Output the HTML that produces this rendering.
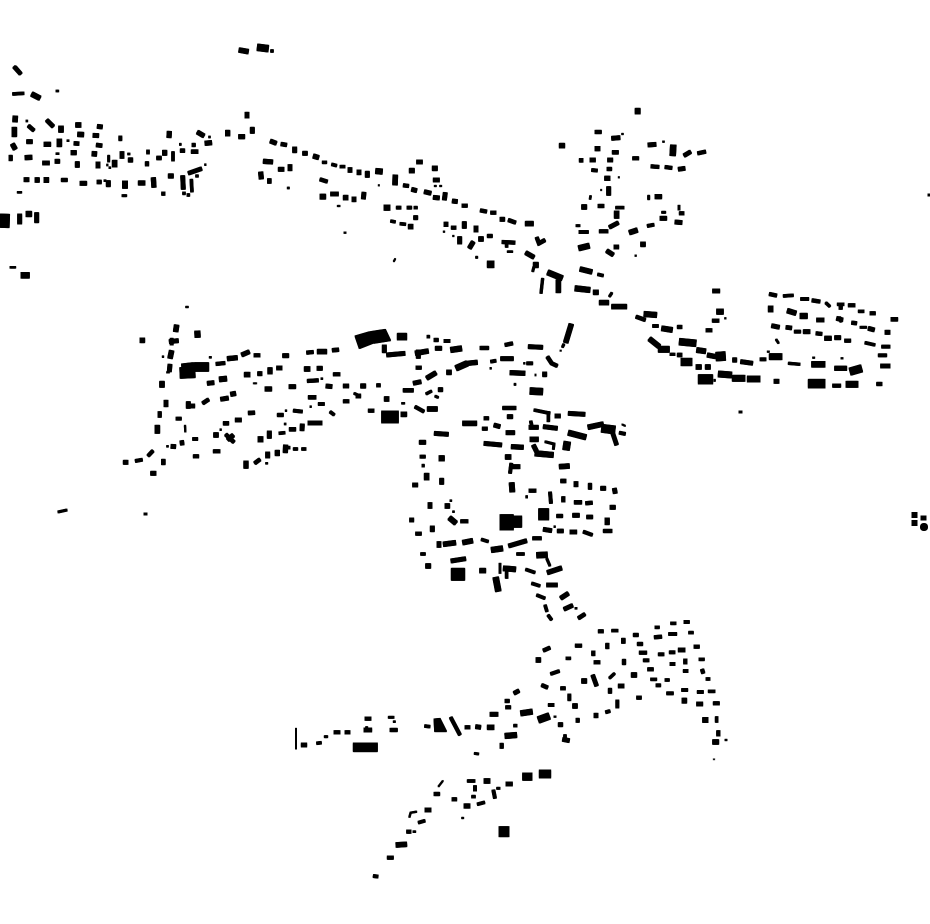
<!DOCTYPE html>
<html><head><meta charset="utf-8"><style>html,body{margin:0;padding:0;background:#fff}svg{display:block}path{stroke:#000;fill:none}.f{stroke:none;fill:#000}</style></head><body>
<svg xmlns="http://www.w3.org/2000/svg" width="930" height="924" viewBox="0 0 930 924">
<g id="a">
<g transform="translate(0 30) scale(.33333)">
<path d="M42 110 62 132" stroke-width="10"/><path d="M38 192 72 190" stroke-width="8"/><path d="M95 192 120 205" stroke-width="14"/><path d="M717 60 745 65" stroke-width="14"/><path d="M772 52 805 56" stroke-width="20"/><path d="M812 63 820 63" stroke-width="8"/>
<path d="M46 258 45 276" stroke-width="14"/><path d="M85 287 102 302" stroke-width="10"/><path d="M140 270 160 290" stroke-width="11"/><path d="M183 288 183 307" stroke-width="14"/><path d="M227 285 243 285" stroke-width="14"/><path d="M292 289 307 291" stroke-width="12"/><path d="M233 313 251 314" stroke-width="14"/><path d="M279 316 296 317" stroke-width="12"/><path d="M361 318 361 332" stroke-width="9"/><path d="M508 304 507 323" stroke-width="13"/><path d="M43 292 43 320" stroke-width="14"/><path d="M37 342 46 358" stroke-width="13"/><path d="M80 335 97 335" stroke-width="12"/><path d="M132 343 152 343" stroke-width="13"/><path d="M178 327 178 350" stroke-width="14"/><path d="M222 340 237 341" stroke-width="11"/><path d="M289 345 306 347" stroke-width="11"/><path d="M213 368 229 368" stroke-width="13"/><path d="M276 371 290 372" stroke-width="14"/><path d="M32 376 32 392" stroke-width="10"/><path d="M75 383 96 382" stroke-width="13"/><path d="M128 399 148 399" stroke-width="12"/><path d="M172 388 172 400" stroke-width="14"/><path d="M232 395 232 412" stroke-width="12"/><path d="M294 396 294 414" stroke-width="12"/><path d="M326 376 326 396" stroke-width="6"/><path d="M344 391 344 411" stroke-width="14"/><path d="M366 365 366 385" stroke-width="12"/><path d="M385 390 398 390" stroke-width="13"/><path d="M441 395 441 408" stroke-width="10"/><path d="M444 360 444 372" stroke-width="8"/><path d="M470 384 484 384" stroke-width="11"/><path d="M494 361 494 376" stroke-width="13"/><path d="M519 365 519 393" stroke-width="8"/><path d="M541 362 554 362" stroke-width="11"/><path d="M581 340 581 350" stroke-width="10"/><path d="M574 365 594 365" stroke-width="11"/><path d="M592 306 612 318" stroke-width="12"/><path d="M615 340 635 338" stroke-width="13"/><path d="M683 301 683 318" stroke-width="13"/><path d="M716 320 734 320" stroke-width="13"/><path d="M741 247 741 264" stroke-width="12"/><path d="M757 292 757 310" stroke-width="12"/><path d="M811 333 829 340" stroke-width="12"/><path d="M843 342 860 345" stroke-width="11"/><path d="M884 351 884 368" stroke-width="12"/><path d="M790 394 818 396" stroke-width="13"/><path d="M835 418 852 418" stroke-width="12"/><path d="M870 404 870 422" stroke-width="12"/><path d="M782 426 784 447" stroke-width="13"/><path d="M808 446 808 460" stroke-width="11"/>
<path d="M72 449 87 449" stroke-width="12"/><path d="M105 450 118 450" stroke-width="14"/><path d="M132 450 146 450" stroke-width="15"/><path d="M184 450 202 450" stroke-width="10"/><path d="M240 460 260 460" stroke-width="12"/><path d="M291 456 304 456" stroke-width="11"/><path d="M325 452 325 470" stroke-width="12"/><path d="M375 453 375 475" stroke-width="15"/><path d="M415 459 435 459" stroke-width="13"/><path d="M460 443 462 472" stroke-width="13"/><path d="M505 438 520 438" stroke-width="13"/><path d="M548 437 550 478" stroke-width="12"/><path d="M574 448 576 486" stroke-width="8"/><path d="M565 430 605 416" stroke-width="11"/><path d="M587 438h8" stroke-width="7"/><path d="M485 491h10" stroke-width="10"/><path d="M548 490h8" stroke-width="8"/><path d="M561 495h8" stroke-width="8"/><path d="M366 497 380 497" stroke-width="6"/><path d="M52 487 65 487" stroke-width="5"/><path d="M30 712 47 712" stroke-width="5"/><path d="M63 736 88 736" stroke-width="17"/><path d="M0 572 28 573" stroke-width="40"/><path d="M59 552 59 582" stroke-width="12"/><path d="M78 552 95 552" stroke-width="16"/><path d="M110 548 110 578" stroke-width="12"/>
<path d="M168 183h8M78 273h5M201 332h6M168 371h9M383 372h7M320 405h4M327 413h5M614 404h4M626 321h5M541 340v6M862 474h6M312 452h6" stroke-width="5"/>
</g>
<g transform="translate(230 100) scale(.33333)">
<path d="M218 160 232 160" stroke-width="12"/><path d="M250 168 266 173" stroke-width="13"/><path d="M277 187 290 187" stroke-width="8"/><path d="M305 193 320 197" stroke-width="8"/><path d="M330 200 345 200" stroke-width="8"/><path d="M360 203 360 217" stroke-width="12"/><path d="M387 210 387 224" stroke-width="12"/><path d="M412 214 412 232" stroke-width="12"/><path d="M437 213 457 215" stroke-width="16"/><path d="M496 225 495 255" stroke-width="14"/><path d="M520 256 536 258" stroke-width="10"/><path d="M545 268 560 272" stroke-width="12"/><path d="M583 275 603 280" stroke-width="12"/><path d="M610 292 628 294" stroke-width="12"/><path d="M646 278 643 300" stroke-width="12"/><path d="M667 303 682 305" stroke-width="12"/><path d="M696 317 712 317" stroke-width="10"/><path d="M751 331 770 335" stroke-width="10"/><path d="M782 338 798 338" stroke-width="10"/><path d="M810 358 824 358" stroke-width="12"/><path d="M835 360 857 368" stroke-width="10"/><path d="M886 371 910 371" stroke-width="14"/><path d="M920 412 927 430 945 420" stroke-width="10"/><path d="M887 458 912 472" stroke-width="12"/><path d="M910 495 925 495" stroke-width="16"/><path d="M912 500 908 515" stroke-width="6"/><path d="M953 517 997 535" stroke-width="16"/><path d="M985 540 985 578" stroke-width="14"/><path d="M938 535 933 580" stroke-width="7"/><path d="M988 137 1004 137" stroke-width="14"/>
<path d="M560 186 577 186" stroke-width="12"/><path d="M538 212 553 212" stroke-width="14"/><path d="M607 205 622 205" stroke-width="14"/><path d="M610 240 628 240" stroke-width="12"/><path d="M613 258h6M629 258h6" stroke-width="4"/>
<path d="M462 323 480 323" stroke-width="16"/><path d="M499 323 513 323" stroke-width="9"/><path d="M531 323 545 323" stroke-width="9"/><path d="M552 323 562 323" stroke-width="8"/><path d="M551 353 563 353" stroke-width="12"/><path d="M482 363 496 366" stroke-width="8"/><path d="M510 371 527 373" stroke-width="8"/><path d="M535 380 549 380" stroke-width="14"/><path d="M642 373 654 373" stroke-width="13"/><path d="M664 383 678 383" stroke-width="10"/><path d="M703 365 703 385" stroke-width="12"/><path d="M738 378 738 396" stroke-width="12"/><path d="M689 410 689 432" stroke-width="12"/><path d="M718 445 730 425" stroke-width="12"/><path d="M746 417 760 417" stroke-width="14"/><path d="M772 408 787 408" stroke-width="10"/><path d="M816 426 855 428" stroke-width="10"/><path d="M830 430 830 442" stroke-width="8"/><path d="M832 455 848 455" stroke-width="5"/><path d="M772 493 792 493" stroke-width="20"/><path d="M737 472h6" stroke-width="6"/>
<path d="M270 238 292 245" stroke-width="10"/><path d="M270 290 287 290" stroke-width="15"/><path d="M302 282 325 282" stroke-width="12"/><path d="M340 293 354 293" stroke-width="14"/><path d="M366 298 378 298" stroke-width="14"/><path d="M402 277 400 297" stroke-width="12"/><path d="M322 318h8M342 398h6M640 395h4M668 408h4M445 256h3" stroke-width="4"/><path d="M491 485 496 476" stroke-width="3"/>
</g>
<g transform="translate(530 100) scale(.33333)">
<path d="M323 25 323 42" stroke-width="15"/><path d="M195 96 214 96" stroke-width="10"/><path d="M245 115 270 113" stroke-width="12"/><path d="M195 146 210 146" stroke-width="13"/><path d="M247 157 265 157" stroke-width="11"/><path d="M148 181 159 181" stroke-width="11"/><path d="M180 180 196 180" stroke-width="12"/><path d="M233 180 248 180" stroke-width="12"/><path d="M185 210 202 212" stroke-width="9"/><path d="M231 207 245 207" stroke-width="10"/><path d="M224 235 240 235" stroke-width="13"/><path d="M236 260 236 286" stroke-width="12"/><path d="M182 287 180 298" stroke-width="5"/><path d="M155 321 170 321" stroke-width="14"/><path d="M204 318 222 318" stroke-width="10"/><path d="M257 323 282 323" stroke-width="8"/><path d="M260 333 260 355" stroke-width="14"/><path d="M138 377 150 377" stroke-width="6"/><path d="M147 396 175 396" stroke-width="9"/><path d="M208 394 234 394" stroke-width="10"/><path d="M238 382 265 368" stroke-width="11"/>
<path d="M354 135 378 133" stroke-width="12"/><path d="M430 135 428 167" stroke-width="17"/><path d="M462 167 482 155" stroke-width="11"/><path d="M503 160 527 155" stroke-width="10"/><path d="M308 175 326 175" stroke-width="10"/><path d="M363 199 387 201" stroke-width="10"/><path d="M405 201 426 204" stroke-width="10"/><path d="M445 208 465 205" stroke-width="12"/><path d="M356 286 356 299" stroke-width="6"/><path d="M375 290 395 290" stroke-width="13"/><path d="M447 316 447 330" stroke-width="6"/><path d="M448 340 462 340" stroke-width="10"/><path d="M395 337 407 337" stroke-width="6"/><path d="M390 355 410 355" stroke-width="12"/><path d="M435 366 456 368" stroke-width="12"/><path d="M352 378 372 374" stroke-width="9"/><path d="M298 398 322 390" stroke-width="14"/><path d="M146 445 178 437" stroke-width="16"/><path d="M230 452 250 465" stroke-width="12"/><path d="M252 441 266 441" stroke-width="12"/><path d="M332 433 346 433" stroke-width="14"/><path d="M150 507 186 516" stroke-width="14"/><path d="M203 523 220 527" stroke-width="8"/><path d="M135 565 180 570" stroke-width="16"/><path d="M190 577 205 577" stroke-width="14"/><path d="M238 590 246 578" stroke-width="6"/><path d="M208 608 236 608" stroke-width="14"/><path d="M245 620 290 620" stroke-width="14"/><path d="M318 650 346 660" stroke-width="10"/><path d="M342 642 380 645" stroke-width="16"/><path d="M368 678 385 678" stroke-width="9"/><path d="M395 685 427 690" stroke-width="15"/><path d="M442 681 456 681" stroke-width="10"/><path d="M548 573 569 573" stroke-width="12"/><path d="M560 635 580 635" stroke-width="16"/><path d="M547 662 567 662" stroke-width="10"/><path d="M528 691 546 691" stroke-width="10"/>
<path d="M358 716 388 740" stroke-width="14"/><path d="M385 748 418 748" stroke-width="18"/><path d="M420 763 435 763" stroke-width="7"/><path d="M442 765 456 765" stroke-width="11"/><path d="M453 786 486 786" stroke-width="22"/><path d="M498 801 514 801" stroke-width="14"/><path d="M526 801 541 801" stroke-width="14"/><path d="M505 838 548 838" stroke-width="28"/><path d="M565 822 605 825" stroke-width="18"/><path d="M607 835 645 835" stroke-width="18"/><path d="M652 837 690 837" stroke-width="18"/><path d="M732 844 747 844" stroke-width="12"/><path d="M835 851 885 851" stroke-width="26"/><path d="M908 857 932 857" stroke-width="10"/><path d="M948 853 984 853" stroke-width="18"/><path d="M1040 852 1056 852" stroke-width="10"/>
<path d="M448 725 498 730" stroke-width="20"/><path d="M500 750 527 754" stroke-width="15"/><path d="M532 765 557 770" stroke-width="13"/><path d="M558 770 586 768" stroke-width="26"/><path d="M608 780 620 780" stroke-width="13"/><path d="M632 785 668 790" stroke-width="12"/><path d="M690 778 708 778" stroke-width="9"/><path d="M718 770 756 770" stroke-width="18"/><path d="M775 790 810 793" stroke-width="7"/><path d="M845 793 885 793" stroke-width="17"/><path d="M914 805 950 805" stroke-width="13"/><path d="M960 815 995 805" stroke-width="22"/><path d="M1052 798 1080 798" stroke-width="12"/><path d="M1045 766 1070 766" stroke-width="9"/><path d="M1055 740 1080 740" stroke-width="9"/><path d="M1005 728 1035 735" stroke-width="8"/><path d="M1065 697 1080 697" stroke-width="12"/><path d="M1015 685 1033 690" stroke-width="12"/><path d="M990 682 1010 682" stroke-width="6"/><path d="M965 668 980 670" stroke-width="10"/><path d="M920 655 938 660" stroke-width="12"/><path d="M860 660 882 660" stroke-width="12"/><path d="M810 648 832 648" stroke-width="16"/><path d="M772 632 798 640" stroke-width="14"/><path d="M722 618 722 636" stroke-width="14"/><path d="M725 677 748 682" stroke-width="12"/><path d="M768 682 785 684" stroke-width="11"/><path d="M793 695 812 695" stroke-width="9"/><path d="M820 695 840 695" stroke-width="12"/><path d="M858 700 876 702" stroke-width="10"/><path d="M884 715 904 715" stroke-width="13"/><path d="M914 713 932 713" stroke-width="12"/><path d="M944 722 962 722" stroke-width="10"/><path d="M718 582 740 587" stroke-width="10"/><path d="M760 588 790 586" stroke-width="8"/><path d="M812 597 836 597" stroke-width="9"/><path d="M846 601 870 605" stroke-width="10"/><path d="M887 608 900 620" stroke-width="7"/><path d="M922 613 942 613" stroke-width="8"/><path d="M932 613 932 628" stroke-width="10"/><path d="M955 616 975 616" stroke-width="10"/><path d="M985 634 1002 634" stroke-width="8"/><path d="M1020 640 1036 640" stroke-width="10"/><path d="M1083 658 1103 658" stroke-width="11"/><path d="M927 652 935 665" stroke-width="9"/><path d="M738 718 746 730" stroke-width="5"/>
<path d="M712 755h6M848 773h6M933 775h6M554 838v6M1195 285h6M315 467h4M275 102h5M398 125h5M265 232h3M212 270h3M584 655h4" stroke-width="4"/>
</g>
<g transform="translate(110 300) scale(.33333)">
<path d="M227 21h8" stroke-width="4"/><path d="M200 75 197 95" stroke-width="14"/><path d="M262 93 263 112" stroke-width="16"/><path d="M90 121 104 121" stroke-width="14"/><path d="M178 125 205 122" stroke-width="12"/><path d="M185 115 185 135" stroke-width="9"/><path d="M185 152 180 175" stroke-width="14"/><path d="M180 193 178 215" stroke-width="12"/><path d="M170 217h8" stroke-width="4"/><path d="M215 197 250 193" stroke-width="10"/><path d="M210 219 255 217" stroke-width="32"/><path d="M252 201 296 201" stroke-width="26"/><path d="M318 192 345 189" stroke-width="10"/><path d="M352 176 382 173" stroke-width="13"/><path d="M395 165 418 155" stroke-width="12"/><path d="M432 166 450 166" stroke-width="10"/><path d="M518 167 536 167" stroke-width="12"/><path d="M590 158 610 156" stroke-width="10"/><path d="M622 155 650 155" stroke-width="14"/><path d="M667 151 686 149" stroke-width="11"/>
<path class="f" d="M735 108 780 95 788 130 748 146Z"/><path class="f" d="M782 95 826 88 842 122 790 130Z"/>
<path d="M862 110 890 110" stroke-width="20"/><path d="M823 135 823 158" stroke-width="12"/><path d="M830 165 885 160" stroke-width="12"/><path d="M880 271 900 271" stroke-width="10"/><path d="M823 297 837 297" stroke-width="14"/><path d="M873 343 890 343" stroke-width="14"/><path d="M815 351 865 351" stroke-width="36"/><path d="M775 332 792 332" stroke-width="10"/>
<path d="M403 224 420 224" stroke-width="14"/><path d="M443 221 456 221" stroke-width="12"/><path d="M480 203 480 222" stroke-width="13"/><path d="M500 204 516 204" stroke-width="12"/><path d="M583 207 600 207" stroke-width="14"/><path d="M621 205 637 205" stroke-width="12"/><path d="M670 223 690 223" stroke-width="10"/><path d="M700 258 716 258" stroke-width="12"/><path d="M752 258 767 258" stroke-width="13"/><path d="M800 256 811 256" stroke-width="10"/><path d="M292 250 312 248" stroke-width="12"/><path d="M328 238 350 236" stroke-width="15"/><path d="M465 267 485 267" stroke-width="13"/><path d="M537 260 557 260" stroke-width="12"/><path d="M592 243 625 241" stroke-width="10"/><path d="M648 258 666 260" stroke-width="12"/><path d="M430 250 440 250" stroke-width="3"/>
<path d="M156 244 156 262" stroke-width="14"/><path d="M168 301 168 320" stroke-width="12"/><path d="M149 335 149 352" stroke-width="10"/><path d="M142 376 142 400" stroke-width="14"/><path d="M198 356 214 356" stroke-width="9"/><path d="M225 376 226 396" stroke-width="4"/><path d="M235 305 235 325" stroke-width="12"/><path d="M230 318 254 318" stroke-width="12"/><path d="M278 310 296 298" stroke-width="10"/><path d="M332 298 355 294" stroke-width="12"/><path d="M362 283 377 280" stroke-width="13"/><path d="M595 292 618 292" stroke-width="11"/><path d="M625 312 643 312" stroke-width="9"/><path d="M700 304 717 304" stroke-width="10"/><path d="M732 280 750 288" stroke-width="6"/><path d="M738 288 752 288" stroke-width="12"/><path d="M660 335 673 345" stroke-width="8"/><path d="M502 345 520 345" stroke-width="10"/><path d="M550 332 577 335" stroke-width="9"/><path d="M415 339 434 338" stroke-width="11"/><path d="M376 360 394 360" stroke-width="12"/><path d="M340 370 356 370" stroke-width="11"/><path d="M594 369 636 369" stroke-width="12"/><path d="M577 372 576 392" stroke-width="12"/><path d="M538 388 557 388" stroke-width="11"/><path d="M507 400 525 398" stroke-width="8"/><path d="M478 393 478 415" stroke-width="12"/><path d="M444 418 459 418" stroke-width="16"/><path d="M347 403 372 427" stroke-width="10"/><path d="M353 420 370 405" stroke-width="12"/><path d="M311 405 325 405" stroke-width="14"/><path d="M248 417 263 417" stroke-width="9"/><path d="M215 422 217 435" stroke-width="11"/><path d="M183 439 197 440" stroke-width="12"/><path d="M114 468 129 452" stroke-width="9"/><path d="M76 483 97 479" stroke-width="9"/><path d="M40 487 54 487" stroke-width="12"/><path d="M160 478 160 494" stroke-width="11"/><path d="M122 520 138 520" stroke-width="12"/><path d="M250 469 266 469" stroke-width="10"/><path d="M310 454 330 454" stroke-width="10"/><path d="M408 483 408 505" stroke-width="13"/><path d="M434 490 450 478" stroke-width="10"/><path d="M473 456 473 474" stroke-width="12"/><path d="M502 451 502 467" stroke-width="13"/><path d="M527 435 526 458" stroke-width="13"/><path d="M527 443 540 443" stroke-width="8"/><path d="M550 447 563 447" stroke-width="8"/><path d="M575 447 588 447" stroke-width="8"/>
<path d="M467 490h6M298 172h6M157 170h4M633 236h5M523 372h5M526 332h4M330 389h4M879 310h5M600 320h4M170 439h5" stroke-width="5"/>
</g>
<g transform="translate(350 320) scale(.33333)">
<path d="M231 50h8" stroke-width="8"/><path d="M252 60 265 60" stroke-width="10"/><path d="M282 63 300 63" stroke-width="9"/><path d="M196 100 235 93" stroke-width="14"/><path d="M205 90 205 115" stroke-width="12"/><path d="M256 85 275 85" stroke-width="12"/><path d="M302 90 335 85" stroke-width="16"/><path d="M390 84 416 84" stroke-width="10"/><path d="M465 75 488 70" stroke-width="10"/><path d="M535 80 578 82" stroke-width="12"/><path d="M664 12 647 68" stroke-width="14"/><path d="M642 72 637 82" stroke-width="6"/><path d="M630 92h4" stroke-width="3"/><path d="M592 110 605 130 622 138" stroke-width="10"/><path d="M422 125 438 122" stroke-width="9"/><path d="M452 116 490 116" stroke-width="12"/><path d="M530 130 548 130" stroke-width="9"/><path d="M480 158 525 160" stroke-width="13"/><path d="M578 163 590 163" stroke-width="14"/><path d="M198 143 214 143" stroke-width="10"/><path d="M318 145 352 130" stroke-width="17"/><path d="M353 130 382 127" stroke-width="13"/><path d="M290 157 304 157" stroke-width="14"/><path d="M230 175 258 158" stroke-width="13"/><path d="M190 190 213 185" stroke-width="12"/><path d="M160 211 190 211" stroke-width="11"/><path d="M228 222 245 213" stroke-width="7"/><path d="M265 209 278 209" stroke-width="12"/><path d="M255 228 265 233" stroke-width="6"/><path d="M195 260 222 275" stroke-width="9"/><path d="M232 267 262 267" stroke-width="14"/><path d="M540 213 578 215" stroke-width="20"/><path d="M458 264 498 264" stroke-width="10"/><path d="M472 290 488 290" stroke-width="12"/><path d="M338 310 380 310" stroke-width="14"/><path d="M402 295 416 295" stroke-width="10"/><path d="M397 326 412 326" stroke-width="10"/><path d="M432 315 450 320" stroke-width="12"/><path d="M468 338 494 338" stroke-width="12"/><path d="M253 340 295 343" stroke-width="12"/><path d="M208 367 227 367" stroke-width="12"/><path d="M210 410 226 410" stroke-width="9"/><path d="M267 415 283 415" stroke-width="16"/><path d="M216 437h7" stroke-width="8"/><path d="M230 460 230 480" stroke-width="14"/><path d="M188 495 203 495" stroke-width="12"/><path d="M275 475 275 493" stroke-width="12"/>
<path d="M402 370 455 375" stroke-width="12"/><path d="M484 380 520 382" stroke-width="13"/><path d="M466 411 483 411" stroke-width="14"/><path d="M480 440 510 440" stroke-width="12"/><path d="M484 430 480 460" stroke-width="9"/><path d="M485 488 487 516" stroke-width="15"/><path d="M537 512 558 512" stroke-width="10"/><path d="M530 527v7" stroke-width="5"/><path d="M552 270 600 280" stroke-width="8"/><path d="M595 275 595 305" stroke-width="8"/><path d="M615 288 631 288" stroke-width="12"/><path d="M655 280 705 283" stroke-width="12"/><path d="M542 303 545 316" stroke-width="8"/><path d="M537 322 565 322" stroke-width="12"/><path d="M580 320 622 325" stroke-width="12"/><path d="M540 358 565 358" stroke-width="14"/><path d="M655 338 708 352" stroke-width="16"/><path d="M714 322 760 312" stroke-width="14"/><path d="M755 325 795 330" stroke-width="24"/><path d="M785 330 800 375" stroke-width="11"/><path d="M808 338 826 342" stroke-width="9"/><path d="M816 313 826 318" stroke-width="3"/><path d="M585 365 612 372 610 388" stroke-width="6"/><path d="M550 375 560 395" stroke-width="12"/><path d="M555 400 610 405" stroke-width="16"/><path d="M652 365 648 390" stroke-width="20"/><path d="M628 440 658 438" stroke-width="14"/><path d="M632 483 648 483" stroke-width="11"/><path d="M678 485 678 500" stroke-width="12"/><path d="M720 490 720 508" stroke-width="10"/><path d="M752 505 767 505" stroke-width="12"/><path d="M793 505 796 520" stroke-width="12"/><path d="M600 516 603 550" stroke-width="9"/><path d="M640 530 640 546" stroke-width="10"/><path d="M673 547 695 547" stroke-width="11"/><path d="M707 550 727 548" stroke-width="10"/><path d="M780 562 796 562" stroke-width="12"/><path d="M566 583 596 583" stroke-width="34"/><path d="M620 588 638 588" stroke-width="10"/><path d="M668 586 688 586" stroke-width="12"/><path d="M710 591 728 591" stroke-width="11"/><path d="M765 604 778 604" stroke-width="20"/><path d="M760 633 786 633" stroke-width="10"/><path d="M580 628 605 632" stroke-width="12"/><path d="M622 633 640 633" stroke-width="11"/><path d="M660 636 680 636" stroke-width="12"/><path d="M700 635 727 645" stroke-width="9"/>
<path d="M450 607 490 607" stroke-width="46"/><path d="M490 605 515 605" stroke-width="34"/><path d="M240 548 240 565" stroke-width="12"/><path d="M285 558 299 558" stroke-width="14"/><path d="M179 600 191 600" stroke-width="12"/><path d="M298 593 318 610" stroke-width="14"/><path d="M332 604 354 604" stroke-width="10"/><path d="M197 641 214 641" stroke-width="10"/><path d="M247 618 247 635" stroke-width="12"/><path d="M267 665 267 682" stroke-width="12"/><path d="M280 673 317 668" stroke-width="14"/><path d="M338 668 368 662" stroke-width="14"/><path d="M394 658 415 665" stroke-width="8"/><path d="M424 690 458 685" stroke-width="16"/><path d="M476 678 530 662" stroke-width="12"/><path d="M548 655 574 655" stroke-width="10"/><path d="M212 702 226 702" stroke-width="8"/><path d="M227 738 242 738" stroke-width="14"/><path d="M303 723 347 716" stroke-width="12"/><path d="M304 763 344 763" stroke-width="36"/><path d="M389 752 407 752" stroke-width="14"/><path d="M460 745 497 748" stroke-width="15"/><path d="M450 730 450 760" stroke-width="6"/><path d="M470 755 470 775" stroke-width="8"/><path d="M500 702 523 702" stroke-width="8"/><path d="M560 706 592 704" stroke-width="17"/><path d="M590 715 600 738" stroke-width="6"/><path d="M527 748 555 758" stroke-width="8"/><path d="M592 758 635 744" stroke-width="13"/><path d="M437 772 445 814" stroke-width="17"/><path d="M545 790 570 798" stroke-width="8"/><path d="M590 795 622 795" stroke-width="12"/><path d="M560 825 585 835" stroke-width="8"/><path d="M632 835 655 820" stroke-width="12"/><path d="M642 868 668 856" stroke-width="11"/><path d="M685 895 705 882" stroke-width="10"/><path d="M585 855 591 875" stroke-width="8"/><path d="M594 885 605 900" stroke-width="8"/>
<path d="M300 542h5M308 575h5M521 130h4M155 250h4M420 145h4M555 165h3M495 190v6M675 865h6M612 620h4" stroke-width="5"/>
</g>
<g transform="translate(290 610) scale(.33333)">
<path d="M18 355 18 417" stroke-width="3"/><path d="M34 405 50 405" stroke-width="12"/><path d="M80 400 94 398" stroke-width="8"/><path d="M103 380 113 380" stroke-width="6"/><path d="M132 367 150 367" stroke-width="10"/><path d="M165 367 180 367" stroke-width="10"/><path d="M225 326 243 326" stroke-width="10"/><path d="M222 360 245 360" stroke-width="12"/><path d="M230 350v8" stroke-width="6"/><path d="M295 322 312 322" stroke-width="6"/><path d="M300 360 322 360" stroke-width="10"/><path d="M310 335h6" stroke-width="5"/><path d="M190 412 262 412" stroke-width="26"/><path d="M404 348 420 350" stroke-width="8"/><path class="f" d="M432 327 450 325 470 365 434 365Z"/><path d="M482 322 510 375" stroke-width="9"/><path d="M525 352 540 352" stroke-width="10"/><path d="M557 350 572 352" stroke-width="12"/><path d="M592 352 612 352" stroke-width="14"/><path d="M600 313 624 313" stroke-width="12"/><path d="M645 273 658 273" stroke-width="10"/><path d="M647 292 662 292" stroke-width="10"/><path d="M672 250 687 242" stroke-width="11"/><path d="M692 310 727 305" stroke-width="16"/><path d="M745 330 778 318" stroke-width="20"/><path d="M755 225 773 233" stroke-width="10"/><path d="M782 192 808 183" stroke-width="9"/><path d="M760 122 780 113" stroke-width="10"/><path d="M738 150 752 150" stroke-width="14"/><path d="M828 145 842 145" stroke-width="8"/><path d="M856 107 875 107" stroke-width="10"/><path d="M925 64 940 64" stroke-width="10"/><path d="M965 62 984 62" stroke-width="8"/><path d="M910 123 910 137" stroke-width="10"/><path d="M912 157 930 157" stroke-width="10"/><path d="M952 100 952 116" stroke-width="10"/><path d="M1000 85 1000 100" stroke-width="11"/><path d="M1030 75 1045 75" stroke-width="10"/><path d="M1042 102 1058 102" stroke-width="10"/><path d="M1095 52 1108 52" stroke-width="8"/><path d="M1142 40 1158 40" stroke-width="8"/><path d="M1182 36 1198 36" stroke-width="9"/><path d="M1196 68 1210 68" stroke-width="8"/><path d="M1093 82 1115 80" stroke-width="10"/><path d="M1136 72 1160 72" stroke-width="9"/><path d="M1212 110 1228 110" stroke-width="10"/><path d="M1048 128 1070 128" stroke-width="10"/><path d="M1105 133 1122 133" stroke-width="9"/><path d="M1138 127 1155 127" stroke-width="9"/><path d="M1165 120 1185 120" stroke-width="12"/><path d="M1227 148 1243 148" stroke-width="8"/><path d="M1060 151 1077 151" stroke-width="9"/><path d="M1140 162 1155 162" stroke-width="9"/><path d="M1186 147 1186 162" stroke-width="10"/><path d="M1073 178 1090 178" stroke-width="10"/><path d="M1180 183 1194 183" stroke-width="9"/><path d="M1236 178 1240 190" stroke-width="10"/><path d="M1002 148 1002 164" stroke-width="10"/><path d="M875 213 890 213" stroke-width="14"/><path d="M908 195 920 228" stroke-width="11"/><path d="M958 205 974 190" stroke-width="7"/><path d="M985 228 1002 228" stroke-width="12"/><path d="M1024 195 1040 195" stroke-width="14"/><path d="M1082 208 1100 208" stroke-width="8"/><path d="M1098 226 1112 226" stroke-width="9"/><path d="M1125 210 1138 210" stroke-width="8"/><path d="M960 235 960 250" stroke-width="10"/><path d="M1130 250 1150 250" stroke-width="9"/><path d="M1175 240 1193 240" stroke-width="9"/><path d="M1222 246 1240 246" stroke-width="9"/><path d="M1255 244 1275 244" stroke-width="8"/><path d="M1248 207 1260 207" stroke-width="8"/><path d="M1176 272 1190 272" stroke-width="15"/><path d="M1220 282 1238 282" stroke-width="12"/><path d="M1270 280 1288 280" stroke-width="10"/><path d="M1238 330 1254 330" stroke-width="15"/><path d="M1280 320 1280 337" stroke-width="8"/><path d="M1285 362 1285 378" stroke-width="10"/><path d="M1268 396 1286 396" stroke-width="14"/><path d="M1305 390h6" stroke-width="4"/><path d="M1270 448h4" stroke-width="2"/><path d="M1040 263 1054 263" stroke-width="10"/><path d="M982 270 982 294" stroke-width="9"/><path d="M947 307 960 303" stroke-width="9"/><path d="M918 310 918 323" stroke-width="12"/><path d="M863 325 863 337" stroke-width="10"/><path d="M805 344 818 344" stroke-width="12"/><path d="M818 388 838 392" stroke-width="12"/><path d="M825 374 825 388" stroke-width="8"/><path d="M848 288 862 288" stroke-width="14"/><path d="M838 252 838 272" stroke-width="9"/><path d="M812 235 826 235" stroke-width="10"/><path d="M775 285 792 285" stroke-width="9"/><path d="M792 320h6" stroke-width="4"/><path d="M645 378 680 375" stroke-width="16"/><path d="M671 347h10" stroke-width="8"/><path d="M635 400 635 415" stroke-width="10"/><path d="M553 430 566 432" stroke-width="6"/><path d="M445 530 459 512" stroke-width="3"/><path d="M432 552 449 552" stroke-width="10"/><path d="M532 513 555 513" stroke-width="8"/><path d="M582 513 600 513" stroke-width="14"/><path d="M555 527 555 543" stroke-width="9"/><path d="M545 560h11" stroke-width="8"/><path d="M486 568 500 568" stroke-width="10"/><path d="M522 588 540 588" stroke-width="13"/><path d="M562 583 584 577" stroke-width="8"/><path d="M610 540 615 565" stroke-width="9"/><path d="M620 535h10" stroke-width="6"/><path d="M648 522 667 522" stroke-width="12"/><path d="M698 500 726 500" stroke-width="22"/><path d="M748 492 782 492" stroke-width="24"/><path d="M627 665 657 665" stroke-width="30"/><path d="M358 622 362 608 380 605" stroke-width="4"/><path d="M405 600 423 600" stroke-width="12"/><path d="M385 638 405 632" stroke-width="8"/><path d="M350 665 363 665" stroke-width="10"/><path d="M369 665h8" stroke-width="5"/><path d="M318 705 350 703" stroke-width="14"/><path d="M292 743 310 743" stroke-width="10"/><path d="M250 798 264 800" stroke-width="9"/><path d="M515 624h6" stroke-width="4"/>
</g>
<path d="M15 67 21 74" stroke-width="3"/><path d="M58 512 67 510" stroke-width="2"/><path d="M144 514h3" stroke-width="2"/><path d="M928 195h3" stroke-width="2"/><path d="M739 412h3" stroke-width="2"/><path d="M912 515 917 515" stroke-width="5"/><path d="M912 523 917 523" stroke-width="5"/><path d="M921 518 926 518" stroke-width="4"/><circle cx="924" cy="527" r="3.5" fill="#000"/>
</g>
<use href="#a" x=".5" y=".5"/><use href="#a" x="-.5" y=".5"/><use href="#a" x=".5" y="-.5"/><use href="#a" x="-.5" y="-.5"/>
</svg>
</body></html>
